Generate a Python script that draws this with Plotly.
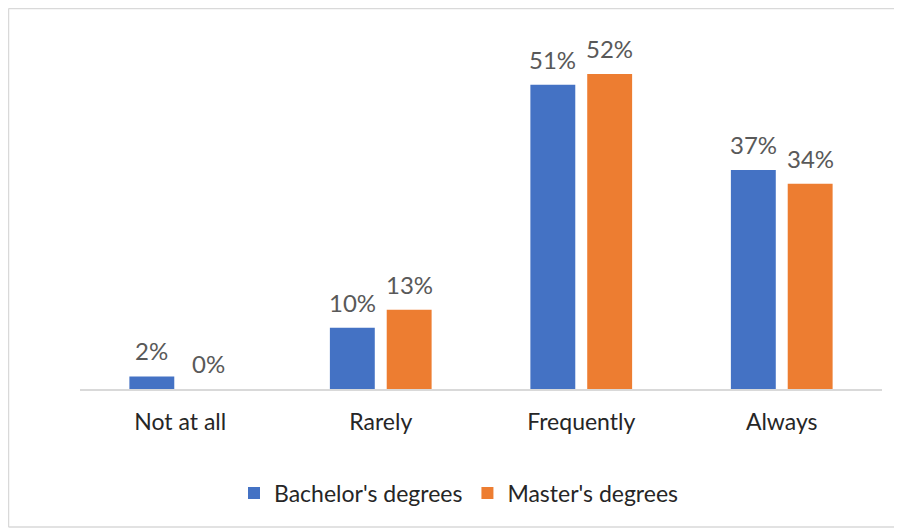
import plotly.graph_objects as go

categories = ["Not at all", "Rarely", "Frequently", "Always"]
bachelor = [2.1, 10.2, 50.7, 36.5]
master = [0.0, 13.2, 52.5, 34.2]
bachelor_labels = ["2%", "10%", "51%", "37%"]
master_labels = ["0%", "13%", "52%", "34%"]
series_names = ["Bachelor's degrees", "Master's degrees"]
colors = ["#4472C4", "#ED7D31"]

# the page body adds an 8px margin, so the figure is sized to fit the window
W, H = 894, 521
L, R, T, B = 72, 20, 21, 140
pw = W - L - R
ph = H - T - B
FONT = "Lato, Open Sans, sans-serif"

fig = go.Figure()
for name, vals, col in zip(series_names, [bachelor, master], colors):
    fig.add_trace(go.Bar(x=categories, y=vals, name=name, marker_color=col,
                         marker_line_width=0))

BARGAP = 0.433
slot = pw / len(categories) * (1 - BARGAP) / 2
for i, (vals, labs) in enumerate([(bachelor, bachelor_labels), (master, master_labels)]):
    off = (i - 0.5) * slot
    for c, v, lab in zip(categories, vals, labs):
        fig.add_annotation(x=c, y=v, text=lab, showarrow=False,
                           xshift=off, yshift=9, yanchor="bottom",
                           font=dict(family=FONT, size=24, color="#595959"))


def px_x(fx):
    return (fx - L) / pw


def px_y(fy):
    return (H - B - fy) / ph


border = dict(color="#D9D9D9", width=1.5)
xl, xr, yt, yb = px_x(0.5), px_x(W + 2), px_y(0.5), px_y(519)
for x0, y0, x1, y1 in [(xl, yt, xr, yt), (xl, yt, xl, yb), (xl, yb, xr, yb)]:
    fig.add_shape(type="line", xref="paper", yref="paper",
                  x0=x0, y0=y0, x1=x1, y1=y1, line=border, layer="below")

fig.update_layout(
    width=W, height=H,
    margin=dict(l=L, r=R, t=T, b=B),
    paper_bgcolor="white", plot_bgcolor="white",
    barmode="group", bargap=BARGAP, bargroupgap=0.21,
    font=dict(family=FONT, size=23, color="#262626"),
    showlegend=True,
    legend=dict(orientation="h", x=(451 - L) / pw, xanchor="center",
                y=(H - B - 485) / ph, yanchor="middle",
                font=dict(family=FONT, size=23, color="#262626"),
                itemwidth=30, tracegroupgap=0),
    xaxis=dict(showline=True, linecolor="#D9D9D9", linewidth=1.5,
               ticks="", showgrid=False, ticklabelstandoff=12,
               tickfont=dict(family=FONT, size=23, color="#262626")),
    yaxis=dict(range=[0, 60], visible=False, showgrid=False),
)

fig.write_html("out.html")
